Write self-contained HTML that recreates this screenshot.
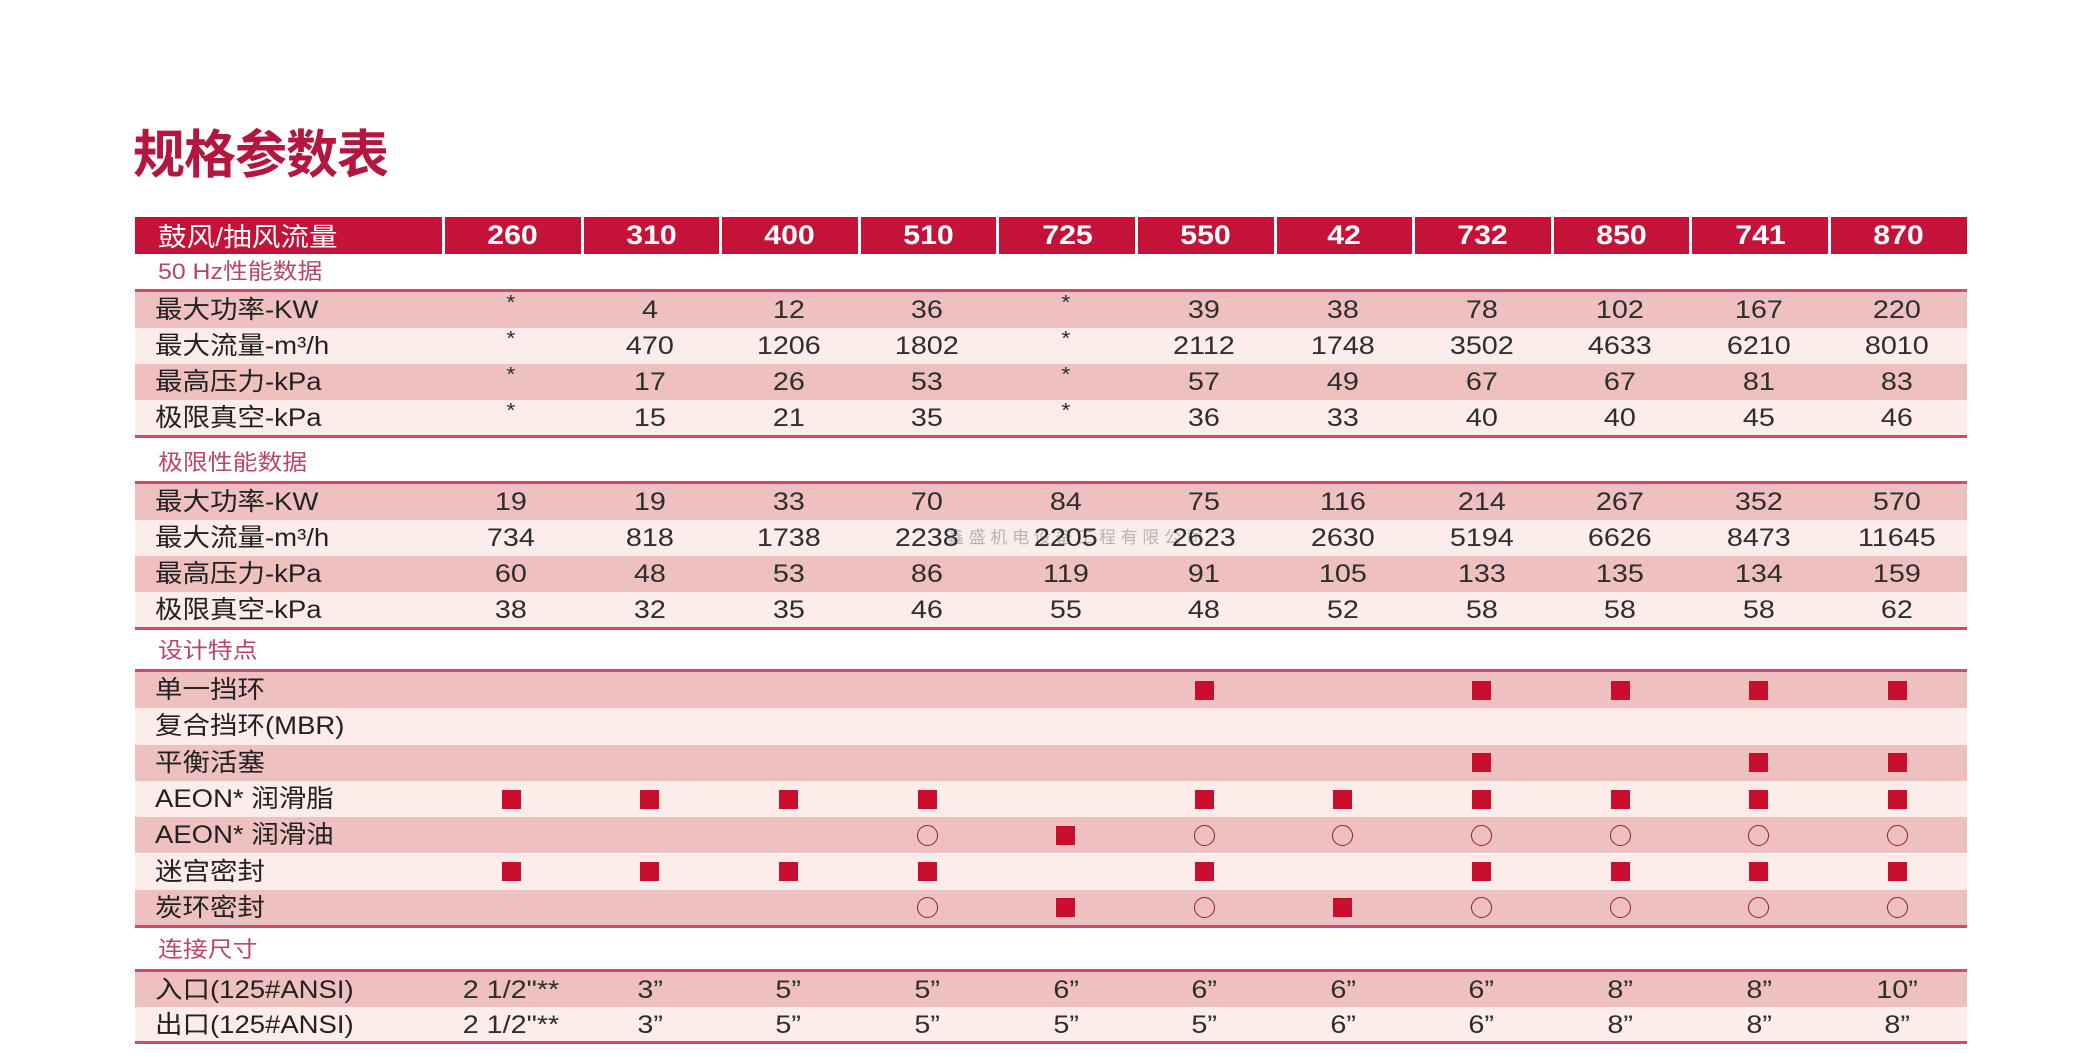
<!DOCTYPE html>
<html><head><meta charset="utf-8">
<style>
html,body{margin:0;padding:0;}
body{width:2100px;height:1063px;background:#fff;position:relative;overflow:hidden;font-family:"Liberation Sans","Noto Sans CJK SC",sans-serif;}
.title{position:absolute;left:133px;top:128px;font-size:52px;line-height:56px;font-weight:bold;color:#b3163f;letter-spacing:-1px;white-space:nowrap;}
.hd{position:absolute;left:135px;top:217px;width:1832px;height:37px;background:#c41238;display:flex;}
.hl{width:307px;flex:none;box-sizing:border-box;padding-left:23px;display:flex;align-items:center;color:#fff;font-size:26px;white-space:nowrap;}
.hl span{display:inline-block;transform:scaleX(1.1);transform-origin:left center;}
.hc{width:138.6px;flex:none;box-sizing:border-box;border-left:3px solid #fff;display:flex;align-items:center;justify-content:center;color:#fff;font-weight:bold;font-size:27px;}
.hc span{display:inline-block;transform:scaleX(1.12);}
.r{position:absolute;left:135px;width:1832px;display:flex;}
.d{background:#efc0c0;}
.w{background:#fcecea;}
.l{width:307px;flex:none;box-sizing:border-box;padding-left:20px;display:flex;align-items:center;font-size:25px;color:#222;white-space:nowrap;}
.l span{display:inline-block;transform:scaleX(1.1);transform-origin:left center;line-height:1.2;}
.c{width:138.6px;flex:none;display:flex;align-items:center;justify-content:center;font-size:25px;color:#2e2e2e;position:relative;z-index:2;white-space:nowrap;}
.c span{display:inline-block;transform:scaleX(1.15);line-height:1.2;}
.st{font-size:20px;position:relative;top:-7px;}
.sq{display:inline-block;width:19px;height:19px;background:#c8102e;}
.ci{display:inline-block;width:21px;height:21px;box-sizing:border-box;border:1.8px solid #8a2234;border-radius:50%;}
.ln{position:absolute;left:135px;width:1832px;height:3px;background:#d4486e;}
.sub{position:absolute;left:158px;font-size:22px;line-height:30px;color:#b9446e;white-space:nowrap;}
.sub span{display:inline-block;transform:scaleX(1.13);transform-origin:left center;}
.wm{position:absolute;left:947px;top:529px;font-size:17px;line-height:18px;letter-spacing:4.7px;color:#b5b5b5;z-index:1;white-space:nowrap;}
</style></head><body>

<div class="title">规格参数表</div>

<div class="hd">
<div class="hl"><span>鼓风/抽风流量</span></div>
<div class="hc"><span>260</span></div><div class="hc"><span>310</span></div><div class="hc"><span>400</span></div><div class="hc"><span>510</span></div><div class="hc"><span>725</span></div><div class="hc"><span>550</span></div><div class="hc"><span>42</span></div><div class="hc"><span>732</span></div><div class="hc"><span>850</span></div><div class="hc"><span>741</span></div><div class="hc"><span>870</span></div>
</div>

<div class="sub" style="top:257px"><span>50 Hz性能数据</span></div>
<div class="ln" style="top:289px"></div>

<div class="r d" style="top:292px;height:36px"><div class="l"><span>最大功率-KW</span></div>
<div class="c"><span class="st">*</span></div><div class="c"><span>4</span></div><div class="c"><span>12</span></div><div class="c"><span>36</span></div><div class="c"><span class="st">*</span></div><div class="c"><span>39</span></div><div class="c"><span>38</span></div><div class="c"><span>78</span></div><div class="c"><span>102</span></div><div class="c"><span>167</span></div><div class="c"><span>220</span></div></div>
<div class="r w" style="top:328px;height:36px"><div class="l"><span>最大流量-m³/h</span></div>
<div class="c"><span class="st">*</span></div><div class="c"><span>470</span></div><div class="c"><span>1206</span></div><div class="c"><span>1802</span></div><div class="c"><span class="st">*</span></div><div class="c"><span>2112</span></div><div class="c"><span>1748</span></div><div class="c"><span>3502</span></div><div class="c"><span>4633</span></div><div class="c"><span>6210</span></div><div class="c"><span>8010</span></div></div>
<div class="r d" style="top:364px;height:36px"><div class="l"><span>最高压力-kPa</span></div>
<div class="c"><span class="st">*</span></div><div class="c"><span>17</span></div><div class="c"><span>26</span></div><div class="c"><span>53</span></div><div class="c"><span class="st">*</span></div><div class="c"><span>57</span></div><div class="c"><span>49</span></div><div class="c"><span>67</span></div><div class="c"><span>67</span></div><div class="c"><span>81</span></div><div class="c"><span>83</span></div></div>
<div class="r w" style="top:400px;height:36px"><div class="l"><span>极限真空-kPa</span></div>
<div class="c"><span class="st">*</span></div><div class="c"><span>15</span></div><div class="c"><span>21</span></div><div class="c"><span>35</span></div><div class="c"><span class="st">*</span></div><div class="c"><span>36</span></div><div class="c"><span>33</span></div><div class="c"><span>40</span></div><div class="c"><span>40</span></div><div class="c"><span>45</span></div><div class="c"><span>46</span></div></div>
<div class="ln" style="top:435px"></div>

<div class="sub" style="top:448px"><span>极限性能数据</span></div>
<div class="ln" style="top:481px"></div>

<div class="r d" style="top:484px;height:36px"><div class="l"><span>最大功率-KW</span></div>
<div class="c"><span>19</span></div><div class="c"><span>19</span></div><div class="c"><span>33</span></div><div class="c"><span>70</span></div><div class="c"><span>84</span></div><div class="c"><span>75</span></div><div class="c"><span>116</span></div><div class="c"><span>214</span></div><div class="c"><span>267</span></div><div class="c"><span>352</span></div><div class="c"><span>570</span></div></div>
<div class="r w" style="top:520px;height:36px"><div class="l"><span>最大流量-m³/h</span></div>
<div class="c"><span>734</span></div><div class="c"><span>818</span></div><div class="c"><span>1738</span></div><div class="c"><span>2238</span></div><div class="c"><span>2205</span></div><div class="c"><span>2623</span></div><div class="c"><span>2630</span></div><div class="c"><span>5194</span></div><div class="c"><span>6626</span></div><div class="c"><span>8473</span></div><div class="c"><span>11645</span></div></div>
<div class="r d" style="top:556px;height:36px"><div class="l"><span>最高压力-kPa</span></div>
<div class="c"><span>60</span></div><div class="c"><span>48</span></div><div class="c"><span>53</span></div><div class="c"><span>86</span></div><div class="c"><span>119</span></div><div class="c"><span>91</span></div><div class="c"><span>105</span></div><div class="c"><span>133</span></div><div class="c"><span>135</span></div><div class="c"><span>134</span></div><div class="c"><span>159</span></div></div>
<div class="r w" style="top:592px;height:36px"><div class="l"><span>极限真空-kPa</span></div>
<div class="c"><span>38</span></div><div class="c"><span>32</span></div><div class="c"><span>35</span></div><div class="c"><span>46</span></div><div class="c"><span>55</span></div><div class="c"><span>48</span></div><div class="c"><span>52</span></div><div class="c"><span>58</span></div><div class="c"><span>58</span></div><div class="c"><span>58</span></div><div class="c"><span>62</span></div></div>
<div class="ln" style="top:627px"></div>

<div class="wm">鑫盛机电设备工程有限公司</div>

<div class="sub" style="top:636px"><span>设计特点</span></div>
<div class="ln" style="top:669px"></div>

<div class="r d" style="top:672px;height:36.3px"><div class="l"><span>单一挡环</span></div>
<div class="c"></div><div class="c"></div><div class="c"></div><div class="c"></div><div class="c"></div><div class="c"><i class="sq"></i></div><div class="c"></div><div class="c"><i class="sq"></i></div><div class="c"><i class="sq"></i></div><div class="c"><i class="sq"></i></div><div class="c"><i class="sq"></i></div></div>
<div class="r w" style="top:708.3px;height:36.3px"><div class="l"><span>复合挡环(MBR)</span></div>
<div class="c"></div><div class="c"></div><div class="c"></div><div class="c"></div><div class="c"></div><div class="c"></div><div class="c"></div><div class="c"></div><div class="c"></div><div class="c"></div><div class="c"></div></div>
<div class="r d" style="top:744.6px;height:36.3px"><div class="l"><span>平衡活塞</span></div>
<div class="c"></div><div class="c"></div><div class="c"></div><div class="c"></div><div class="c"></div><div class="c"></div><div class="c"></div><div class="c"><i class="sq"></i></div><div class="c"></div><div class="c"><i class="sq"></i></div><div class="c"><i class="sq"></i></div></div>
<div class="r w" style="top:780.9px;height:36.3px"><div class="l"><span>AEON* 润滑脂</span></div>
<div class="c"><i class="sq"></i></div><div class="c"><i class="sq"></i></div><div class="c"><i class="sq"></i></div><div class="c"><i class="sq"></i></div><div class="c"></div><div class="c"><i class="sq"></i></div><div class="c"><i class="sq"></i></div><div class="c"><i class="sq"></i></div><div class="c"><i class="sq"></i></div><div class="c"><i class="sq"></i></div><div class="c"><i class="sq"></i></div></div>
<div class="r d" style="top:817.2px;height:36.3px"><div class="l"><span>AEON* 润滑油</span></div>
<div class="c"></div><div class="c"></div><div class="c"></div><div class="c"><i class="ci"></i></div><div class="c"><i class="sq"></i></div><div class="c"><i class="ci"></i></div><div class="c"><i class="ci"></i></div><div class="c"><i class="ci"></i></div><div class="c"><i class="ci"></i></div><div class="c"><i class="ci"></i></div><div class="c"><i class="ci"></i></div></div>
<div class="r w" style="top:853.5px;height:36.3px"><div class="l"><span>迷宫密封</span></div>
<div class="c"><i class="sq"></i></div><div class="c"><i class="sq"></i></div><div class="c"><i class="sq"></i></div><div class="c"><i class="sq"></i></div><div class="c"></div><div class="c"><i class="sq"></i></div><div class="c"></div><div class="c"><i class="sq"></i></div><div class="c"><i class="sq"></i></div><div class="c"><i class="sq"></i></div><div class="c"><i class="sq"></i></div></div>
<div class="r d" style="top:889.8px;height:36.3px"><div class="l"><span>炭环密封</span></div>
<div class="c"></div><div class="c"></div><div class="c"></div><div class="c"><i class="ci"></i></div><div class="c"><i class="sq"></i></div><div class="c"><i class="ci"></i></div><div class="c"><i class="sq"></i></div><div class="c"><i class="ci"></i></div><div class="c"><i class="ci"></i></div><div class="c"><i class="ci"></i></div><div class="c"><i class="ci"></i></div></div>
<div class="ln" style="top:925px"></div>

<div class="sub" style="top:935px"><span>连接尺寸</span></div>
<div class="ln" style="top:969px"></div>

<div class="r d" style="top:972px;height:35px"><div class="l"><span>入口(125#ANSI)</span></div>
<div class="c"><span>2 1/2"**</span></div><div class="c"><span>3”</span></div><div class="c"><span>5”</span></div><div class="c"><span>5”</span></div><div class="c"><span>6”</span></div><div class="c"><span>6”</span></div><div class="c"><span>6”</span></div><div class="c"><span>6”</span></div><div class="c"><span>8”</span></div><div class="c"><span>8”</span></div><div class="c"><span>10”</span></div></div>
<div class="r w" style="top:1007px;height:35px"><div class="l"><span>出口(125#ANSI)</span></div>
<div class="c"><span>2 1/2"**</span></div><div class="c"><span>3”</span></div><div class="c"><span>5”</span></div><div class="c"><span>5”</span></div><div class="c"><span>5”</span></div><div class="c"><span>5”</span></div><div class="c"><span>6”</span></div><div class="c"><span>6”</span></div><div class="c"><span>8”</span></div><div class="c"><span>8”</span></div><div class="c"><span>8”</span></div></div>
<div class="ln" style="top:1041px"></div>

</body></html>
